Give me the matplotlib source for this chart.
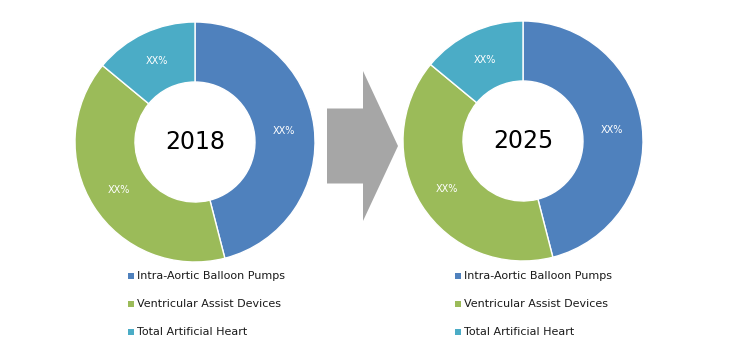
import numpy as np
import matplotlib.pyplot as plt
from matplotlib.patches import FancyArrow

segments = ["Intra-Aortic Balloon Pumps", "Ventricular Assist Devices", "Total Artificial Heart"]
share_2018 = [46, 40, 14]
share_2025 = [46, 40, 14]
years = ["2018", "2025"]
colors = ["#4f81bd", "#9bbb59", "#4bacc6"]

W, H = 736, 347
fig = plt.figure(figsize=(W / 100, H / 100), dpi=100)
ax = fig.add_axes([0, 0, 1, 1])

def donut(vals, cx, cy, year):
    ax.pie(vals, colors=colors, startangle=90, counterclock=False,
           radius=120, center=(cx, H - cy),
           wedgeprops=dict(width=60, edgecolor="white", linewidth=1),
           autopct=lambda p: "XX%", pctdistance=0.75,
           textprops=dict(color="white", fontsize=7), frame=True)
    ax.text(cx, H - cy, year, ha="center", va="center", fontsize=17, color="black")

donut(share_2018, 195, 142, years[0])
donut(share_2025, 523, 141, years[1])
ax.set_xlim(0, W)
ax.set_ylim(0, H)
ax.set_aspect("equal")
ax.axis("off")

# arrow between the two donuts
ax.add_patch(FancyArrow(327, H - 146, 36, 0, width=75, head_width=150,
                        head_length=35, length_includes_head=False,
                        color="#a6a6a6", lw=0))

# legends
for lx in (131, 458):
    for i, (name, c) in enumerate(zip(segments, colors)):
        y = H - (276 + 28 * i)
        ax.scatter([lx], [y], marker="s", s=18, color=c, lw=0)
        ax.text(lx + 6, y, name, ha="left", va="center", fontsize=8, color="#1a1a1a")

fig.savefig("out.png", dpi=100)
